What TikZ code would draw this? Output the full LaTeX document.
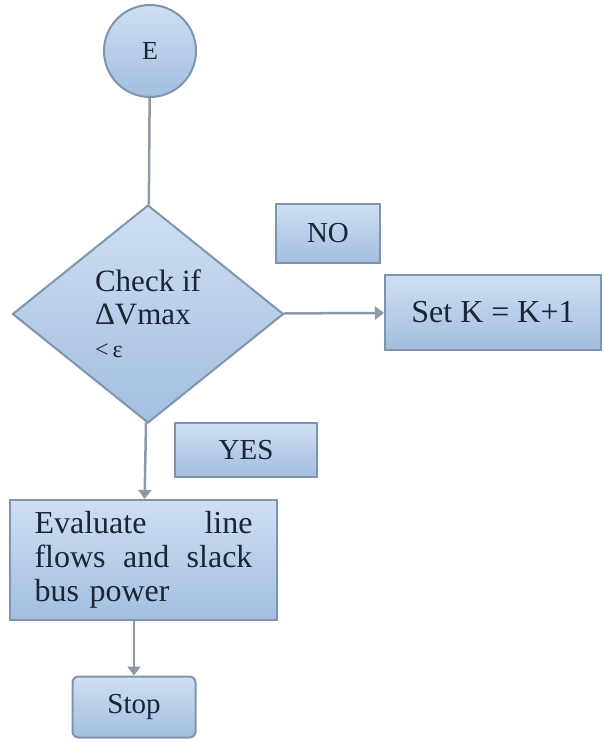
\documentclass[tikz,border=0pt]{standalone}
\usepackage{fontspec}
\setmainfont{Liberation Serif}
\usepackage{xcolor}
\usetikzlibrary{arrows.meta,shapes.geometric}
\definecolor{edgex}{HTML}{7F95AD}
\definecolor{topx}{HTML}{CFDFF2}
\definecolor{botx}{HTML}{A2BEDF}
\definecolor{inkx}{HTML}{1A2536}
\definecolor{linex}{HTML}{8C99A8}
\tikzset{
  ln/.style={line width=2.5pt,linex},
  ar/.style={ln,-{Triangle[length=9pt,width=13pt]}},
  blk/.style={draw=edgex,line width=2pt,top color=topx,bottom color=botx,text=inkx,inner sep=0pt,font=\fontsize{32}{34}\selectfont},
  box/.style={blk,rectangle}
}
\begin{document}
\begin{tikzpicture}[x=1pt,y=-1pt]
\useasboundingbox[fill=white] (0,0) rectangle (603,742);
\node[blk,circle,minimum size=92pt,font=\fontsize{26}{30}\selectfont] (E) at (150,51) {E};
\node[blk,diamond,minimum width=271pt,minimum height=218pt,align=left,font=\fontsize{31}{33}\selectfont] (chk) at (148,314) {Check if\\ΔVmax\\{\fontsize{24}{26}\selectfont <\,ε}};
\node[box,minimum width=104pt,minimum height=59pt,font=\fontsize{29}{30}\selectfont] (no) at (328,233.5) {NO};
\node[box,minimum width=216pt,minimum height=75pt] (setk) at (493,312.5) {Set K = K+1};
\node[box,minimum width=142pt,minimum height=54pt,font=\fontsize{29}{30}\selectfont] (yes) at (246,450) {YES};
\node[box,text width=218pt,inner xsep=24.5pt,minimum height=120pt,align=left] (eval) at (143.5,560) {Evaluate\hfill line\\flows\hfill and\hfill slack\\bus power};
\node[box,rounded corners=6pt,minimum width=123pt,minimum height=61pt,font=\fontsize{29}{30}\selectfont] (stop) at (134,707) {Stop};
% connectors
\draw[ln] (E) -- (chk);
\draw[ar] (chk) -- (setk);
\draw[ar] (chk) -- (eval);
\draw[ar] (eval.south -| stop.north) -- (stop.north);
\end{tikzpicture}
\end{document}
